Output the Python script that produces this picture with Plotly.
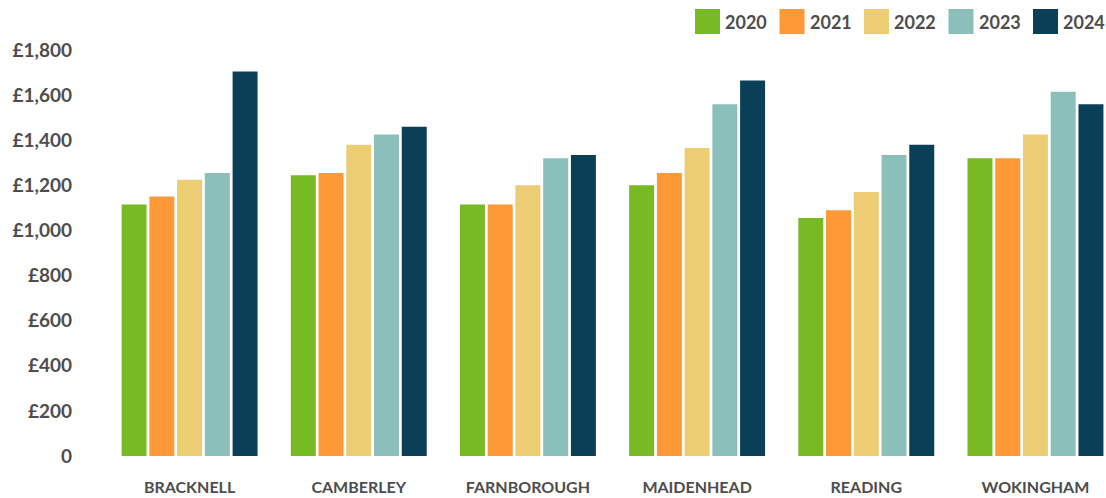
import plotly.graph_objects as go

categories = ["BRACKNELL", "CAMBERLEY", "FARNBOROUGH", "MAIDENHEAD", "READING", "WOKINGHAM"]
years = ["2020", "2021", "2022", "2023", "2024"]
values_2020 = [1115, 1245, 1115, 1200, 1055, 1320]
values_2021 = [1150, 1255, 1115, 1255, 1090, 1320]
values_2022 = [1225, 1380, 1200, 1365, 1170, 1425]
values_2023 = [1255, 1425, 1320, 1560, 1335, 1615]
values_2024 = [1705, 1460, 1335, 1665, 1380, 1560]
series = [values_2020, values_2021, values_2022, values_2023, values_2024]
colors = ["#77BA23", "#FD9937", "#ECCD74", "#8BC0BA", "#0B3F57"]
y_tickvals = [0, 200, 400, 600, 800, 1000, 1200, 1400, 1600, 1800]
y_ticktext = ["0", "£200", "£400", "£600", "£800", "£1,000", "£1,200", "£1,400", "£1,600", "£1,800"]

FONT = "Lato"
TXT = "#4d4d4d"

fig = go.Figure()
for yr, vals, c in zip(years, series, colors):
    fig.add_trace(go.Bar(x=categories, y=vals, name=yr, marker=dict(color=c, line=dict(width=0)),
                         showlegend=False))

# custom legend (large square swatches)
for i, (yr, c) in enumerate(zip(years, colors)):
    x0 = 695 + i * 84.5
    fig.add_shape(type="rect", xref="paper", yref="paper",
                  x0=(x0 - 105) / 1001, x1=(x0 + 25 - 105) / 1001,
                  y0=1 + (50 - 34) / 406, y1=1 + (50 - 9) / 406,
                  fillcolor=c, line=dict(width=0))
    fig.add_annotation(xref="paper", yref="paper", x=(x0 + 28 - 105) / 1001,
                       y=1 + (50 - 21.5) / 406, text=yr, showarrow=False,
                       xanchor="left", yanchor="middle",
                       font=dict(family=FONT, size=18, color=TXT, weight="bold"))

fig.update_layout(
    width=1106, height=498,
    margin=dict(l=105, r=0, t=50, b=42),
    paper_bgcolor="white", plot_bgcolor="white",
    barmode="group", bargap=0.18, bargroupgap=0.1,
    font=dict(family=FONT, color=TXT),
    xaxis=dict(range=[-0.5, 5.417], showgrid=False, showline=False, zeroline=False,
               ticks="", ticklabelstandoff=20, automargin=False,
               tickfont=dict(family=FONT, size=16, color=TXT, weight="bold")),
    yaxis=dict(range=[0, 1800], tickvals=y_tickvals, ticktext=y_ticktext,
               showgrid=False, showline=False, zeroline=False, ticks="",
               ticklabelstandoff=32, automargin=False,
               tickfont=dict(family=FONT, size=19, color=TXT, weight="bold")),
)

fig.write_html("out.html", config={"displayModeBar": False},
               post_script="document.body.style.margin='0';document.body.style.overflow='hidden';")
